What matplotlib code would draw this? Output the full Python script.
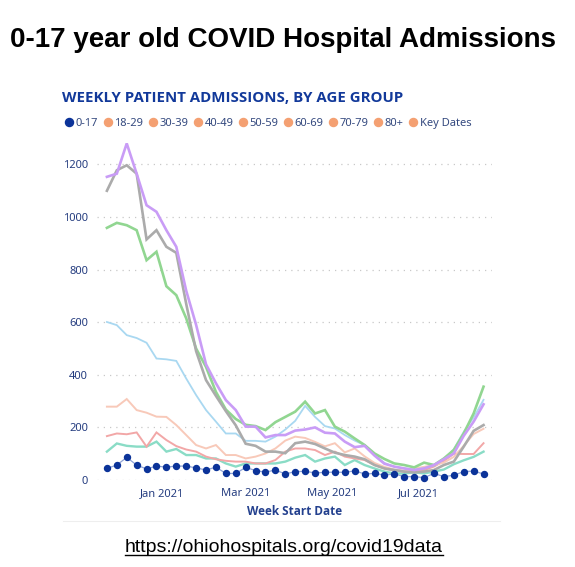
import pandas as pd
import matplotlib.pyplot as plt
import matplotlib.dates as mdates
from matplotlib.lines import Line2D

weeks = pd.date_range('2020-11-23', periods=39, freq='7D')

age_0_17 = [44, 57, 86, 57, 42, 53, 49, 53, 53, 46, 38, 49, 25, 25, 48, 36, 30, 38, 23, 32,
            33, 27, 29, 30, 29, 35, 23, 25, 19, 23, 13, 13, 9, 25, 13, 18, 32, 34, 23]
age_18_29 = [108, 139, 130, 127, 127, 146, 108, 118, 95, 95, 82, 82, 63, 51, 63, 63, 63, 63, 70, 85,
             95, 70, 82, 89, 57, 76, 57, 44, 32, 25, 25, 29, 25, 32, 40, 60, 75, 88, 108]
age_30_39 = [167, 177, 174, 181, 127, 181, 152, 129, 116, 108, 89, 79, 73, 70, 70, 63, 63, 76, 108, 120,
             120, 114, 95, 108, 89, 82, 76, 57, 44, 36, 32, 36, 38, 51, 72, 100, 99, 99, 140]
age_40_49 = [279, 279, 308, 266, 256, 241, 240, 209, 171, 133, 120, 133, 95, 95, 82, 89, 101, 120, 150, 165,
             160, 145, 128, 140, 105, 120, 90, 65, 50, 40, 36, 44, 50, 57, 66, 88, 130, 175, 195]
age_50_59 = [601, 589, 551, 540, 522, 462, 459, 453, 386, 323, 266, 222, 177, 177, 149, 149, 146, 165, 192, 225,
             282, 240, 205, 196, 171, 150, 133, 95, 65, 50, 45, 40, 45, 55, 80, 117, 183, 238, 305]
age_60_69 = [959, 978, 969, 950, 836, 868, 737, 703, 615, 500, 430, 335, 268, 232, 210, 205, 190, 220, 240, 260,
             298, 253, 266, 203, 184, 158, 133, 101, 80, 63, 57, 48, 66, 57, 82, 114, 177, 253, 355]
age_70_79 = [1153, 1165, 1280, 1165, 1045, 1020, 950, 887, 720, 590, 440, 368, 304, 266, 203, 203, 162, 171, 171, 188,
             192, 200, 180, 177, 146, 125, 130, 93, 62, 51, 44, 38, 44, 57, 79, 101, 168, 222, 288]
age_80_plus = [1100, 1178, 1197, 1165, 915, 950, 887, 864, 670, 490, 380, 320, 262, 208, 138, 130, 108, 108, 102, 140,
               146, 137, 120, 104, 95, 89, 79, 57, 44, 38, 32, 29, 32, 38, 57, 70, 127, 187, 209]

legend_labels = ['0-17', '18-29', '30-39', '40-49', '50-59', '60-69', '70-79', '80+', 'Key Dates']

azul = '#0b3399'
texto_azul = '#23408e'
laranja = '#f4a072'

fig = plt.figure(figsize=(5.75, 5.67), dpi=100)
ax = fig.add_axes([0.1687, 0.1534, 0.687, 0.6029])

# linhas das faixas adultas (cores claras)
series = [
    (age_18_29, '#8adcc6', 1.7),
    (age_30_39, '#f2a7a7', 1.4),
    (age_40_49, '#f8c9b9', 1.4),
    (age_50_59, '#a9d8f1', 1.3),
    (age_60_69, '#91d691', 1.9),
    (age_80_plus, '#ababab', 1.9),
    (age_70_79, '#c99cf6', 1.9),
]
for valores, cor, lw in series:
    ax.plot(weeks, valores, color=cor, lw=lw, solid_joinstyle='miter')

ax.plot(weeks, age_0_17, color='#8fa3d6', lw=0.9, marker='o', markersize=4.3,
        markerfacecolor=azul, markeredgecolor=azul, clip_on=False, zorder=5)

ax.set_ylim(0, 1300)
ax.set_xlim(pd.Timestamp('2020-11-16'), pd.Timestamp('2021-08-22'))
ax.set_yticks(range(0, 1201, 200))
ax.yaxis.grid(True, linestyle=(0, (1, 4)), color='#c8c8c8', lw=0.9)
ax.set_axisbelow(True)
for s in ax.spines.values():
    s.set_visible(False)

ax.xaxis.set_major_locator(mdates.MonthLocator(bymonth=[1, 3, 5, 7]))
ax.xaxis.set_major_formatter(mdates.DateFormatter('%b %Y'))
ax.tick_params(length=0, labelsize=8, labelcolor='#253d80', pad=6)
for lab in ax.get_xticklabels() + ax.get_yticklabels():
    lab.set_fontfamily('Noto Sans')
ax.tick_params(axis='y', pad=6.5)

ax.set_xlabel('Week Start Date', fontsize=8.5, fontweight='bold', color=texto_azul,
              family='Open Sans', labelpad=4)

fig.text(0.493, 0.93, '0-17 year old COVID Hospital Admissions', ha='center', va='center',
         fontsize=20, fontweight='bold', family='Liberation Sans', color='black')
fig.text(0.108, 0.827, 'WEEKLY PATIENT ADMISSIONS, BY AGE GROUP', ha='left', va='center',
         fontsize=10.8, fontweight='bold', family='Open Sans', color='#12399a')

handles = []
for i, nome in enumerate(legend_labels):
    cor = azul if i == 0 else laranja
    handles.append(Line2D([], [], ls='none', marker='o', markersize=5.8,
                          markerfacecolor=cor, markeredgecolor=cor, label=nome))
leg = fig.legend(handles=handles, ncol=9, loc='center left', bbox_to_anchor=(0.1123, 0.783),
                 frameon=False, handlelength=0.8, handletextpad=0.2, columnspacing=0.45,
                 borderpad=0, borderaxespad=0, prop={'family': 'Noto Sans', 'size': 8})
for t in leg.get_texts():
    t.set_color('#34497f')

fig.add_artist(Line2D([0.11, 0.87], [0.081, 0.081], transform=fig.transFigure,
                      color='#eeeeee', lw=0.8))

url = fig.text(0.494, 0.035, 'https://ohiohospitals.org/covid19data', ha='center', va='center',
               fontsize=14, family='Liberation Sans', color='black')
fig.canvas.draw()
bb = url.get_window_extent()
fig.add_artist(Line2D([bb.x0, bb.x1], [bb.y0 + 1, bb.y0 + 1], transform=None,
                      color='black', lw=1.0))

fig.savefig('out.png', dpi=100)
